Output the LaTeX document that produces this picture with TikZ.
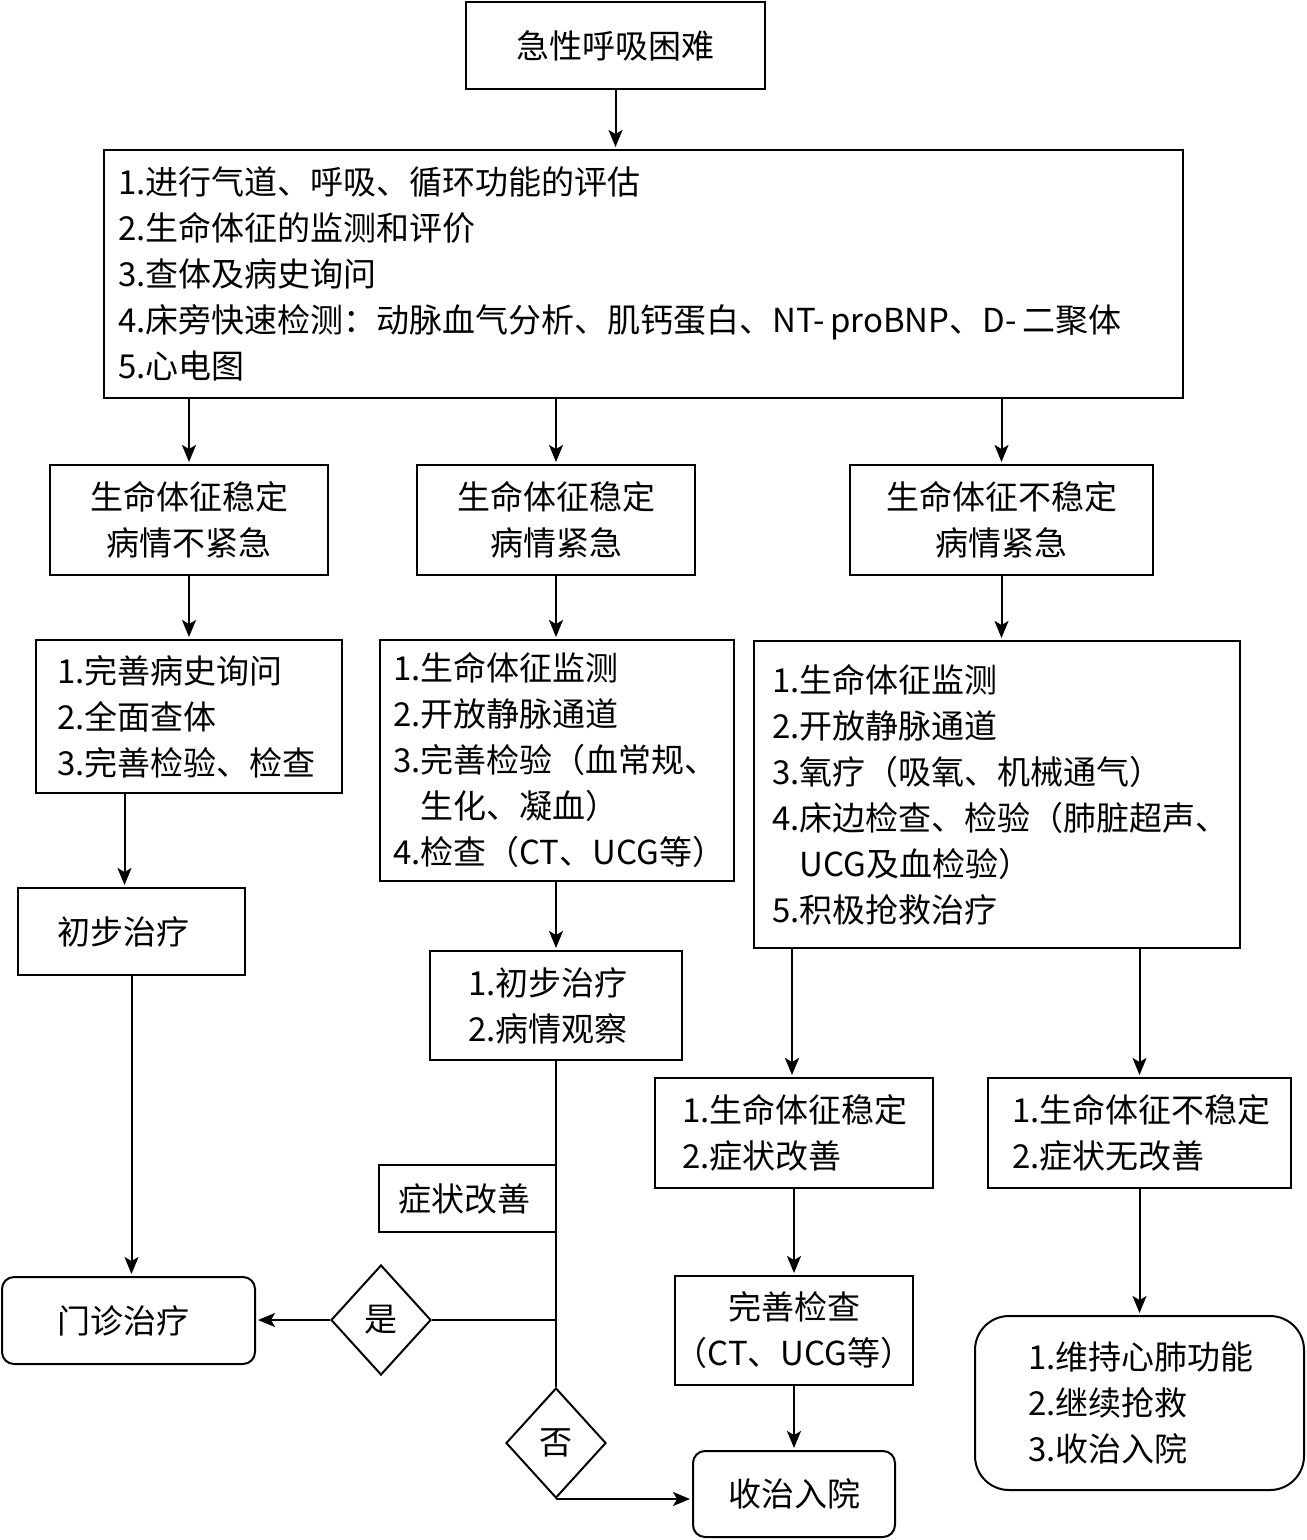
\documentclass[tikz,border=0pt]{standalone}
\usepackage{fontspec}
\setmainfont{Noto Sans CJK SC}
\usetikzlibrary{arrows.meta,shapes.geometric}

\begin{document}
\begin{tikzpicture}[x=0.5pt, y=-0.5pt, line width=1pt,
        box/.style={draw, font=\fontsize{16.5}{23}\selectfont, align=center, inner sep=0pt},
        lbox/.style={box, align=left},
        rbox/.style={box, rounded corners=6pt},
        dia/.style={draw, diamond, font=\fontsize{16.5}{23}\selectfont, inner sep=0pt, minimum width=50pt, minimum height=55pt},
        arr/.style={-{Stealth[length=8.5pt,width=7pt,inset=2pt]}, shorten >=1pt}]
        \useasboundingbox (0,0) rectangle (1306,1540);
        % top
        \node[box, minimum width=149.5pt, minimum height=43.5pt] (onset) at (615.5,45.5) {急性呼吸困难};
        \node[lbox, minimum width=539.5pt, text width=525.5pt, minimum height=124pt] (assess) at (643.5,274) {1.进行气道、呼吸、循环功能的评估\\2.生命体征的监测和评价\\3.查体及病史询问\\4.床旁快速检测：动脉血气分析、肌钙蛋白、NT-\,proBNP、D-\,二聚体\\5.心电图};
        % three branches
        \node[box, minimum width=139pt, minimum height=55pt] (s1) at (189,520) {生命体征稳定\\病情不紧急};
        \node[box, minimum width=139pt, minimum height=55pt] (s2) at (556,520) {生命体征稳定\\病情紧急};
        \node[box, minimum width=151.5pt, minimum height=55pt] (s3) at (1001.5,520) {生命体征不稳定\\病情紧急};
        \node[lbox, minimum width=153pt, text width=132pt, minimum height=76.5pt] (m1) at (189,716.5) {1.完善病史询问\\2.全面查体\\3.完善检验、检查};
        \node[lbox, minimum width=177pt, text width=164pt, minimum height=120.5pt] (m2) at (557,760.5) {1.生命体征监测\\2.开放静脉通道\\3.完善检验（血常规、\\\phantom{3.}生化、凝血）\\4.检查（CT、UCG等）};
        \node[lbox, minimum width=243pt, text width=225pt, minimum height=153.5pt] (m3) at (997,794.5) {1.生命体征监测\\2.开放静脉通道\\3.氧疗（吸氧、机械通气）\\4.床边检查、检验（肺脏超声、\\\phantom{4.}UCG及血检验）\\5.积极抢救治疗};
        % left column
        \node[lbox, minimum width=113.5pt, text width=74.5pt, minimum height=43.5pt] (tx1) at (131.5,931.5) {初步治疗};
        \node[rbox, align=left, minimum width=126.5pt, text width=71.5pt, minimum height=43.5pt] (opd) at (128.5,1320.5) {门诊治疗};
        % middle column
        \node[lbox, minimum width=126pt, text width=88pt, minimum height=54.5pt] (obs) at (556,1005.5) {1.初步治疗\\2.病情观察};
        \node[lbox, minimum width=88.5pt, text width=69.5pt, minimum height=33.5pt] (better) at (467.5,1198.5) {症状改善};
        \node[dia] (yes) at (381,1320) {是};
        \node[dia] (no) at (556,1443) {否};
        \node[rbox, minimum width=101pt, minimum height=43pt] (admit) at (794,1494) {收治入院};
        % right column
        \node[lbox, minimum width=139pt, text width=112pt, minimum height=55pt] (ok) at (794,1133) {1.生命体征稳定\\2.症状改善};
        \node[lbox, minimum width=151.5pt, text width=127.5pt, minimum height=55pt] (bad) at (1139.5,1133) {1.生命体征不稳定\\2.症状无改善};
        \node[box, minimum width=117pt, minimum height=54.5pt] (more) at (794,1330.5) {完善检查\\（CT、UCG等）};
        \node[rbox, align=left, rounded corners=17pt, minimum width=164.5pt, text width=111.5pt, minimum height=87pt] (keep) at (1139.5,1403) {1.维持心肺功能\\2.继续抢救\\3.收治入院};
        % arrows
        \draw[arr] (onset.south) -- (onset.south |- assess.north);
        \draw[arr] (s1.north |- assess.south) -- (s1.north);
        \draw[arr] (s2.north |- assess.south) -- (s2.north);
        \draw[arr] (s3.north |- assess.south) -- (s3.north);
        \draw[arr] (s1.south) -- (s1.south |- m1.north);
        \draw[arr] (s2.south) -- (s2.south |- m2.north);
        \draw[arr] (s3.south) -- (s3.south |- m3.north);
        \draw[arr] ([xshift=-3.5pt]tx1.north |- m1.south) -- ([xshift=-3.5pt]tx1.north);
        \draw[arr] (tx1.south) -- (tx1.south |- opd.north);
        \draw[arr] (m2.south -| obs.north) -- (obs.north);
        \draw (obs.south) -- (no.north);
        \draw (yes.east -| obs.south) -- (yes.east);
        \draw[arr] (yes.west) -- (yes.west -| opd.east);
        \draw[arr] (no.south) -- (no.south -| admit.west);
        \draw[arr] ([xshift=-1pt]ok.north |- m3.south) -- ([xshift=-1pt]ok.north);
        \draw[arr] (bad.north |- m3.south) -- (bad.north);
        \draw[arr] (ok.south) -- (more.north);
        \draw[arr] (more.south) -- (admit.north);
        \draw[arr] (bad.south) -- (keep.north);
    \end{tikzpicture}
\end{document}
